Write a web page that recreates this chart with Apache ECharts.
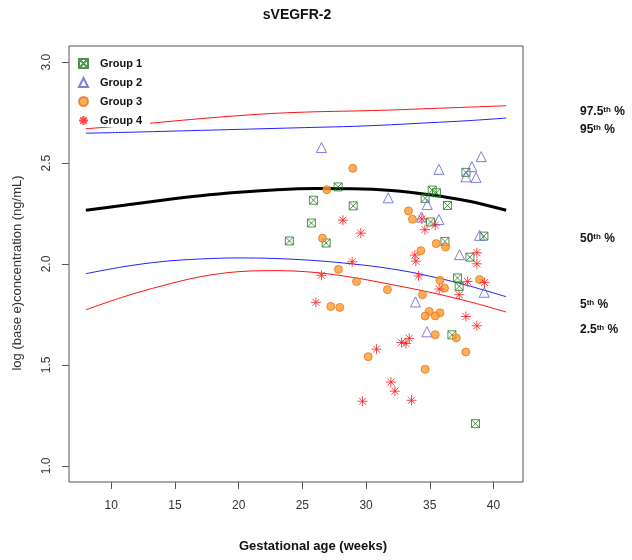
<!DOCTYPE html>
<html>
<head>
<meta charset="utf-8">
<script src="https://cdn.jsdelivr.net/npm/echarts@6/dist/echarts.min.js"></script>
<style>html,body{margin:0;padding:0;background:#fff;}#c{width:632px;height:560px;}</style>
</head>
<body>
<div id="c"></div>
<script>
// ---- data ----
var xTicks = [10, 15, 20, 25, 30, 35, 40];
var yTicks = [1.0, 1.5, 2.0, 2.5, 3.0];
var curveWeeks = [8, 11, 14, 17, 20, 23, 26, 29, 32, 35, 38, 41];
var p975 = [2.670, 2.685, 2.703, 2.720, 2.735, 2.747, 2.754, 2.758, 2.763, 2.770, 2.777, 2.784];
var p95  = [2.648, 2.652, 2.657, 2.662, 2.667, 2.672, 2.677, 2.682, 2.690, 2.700, 2.710, 2.723];
var p50  = [2.266, 2.291, 2.316, 2.338, 2.355, 2.368, 2.374, 2.373, 2.364, 2.343, 2.312, 2.266];
var p5   = [1.952, 1.987, 2.012, 2.025, 2.030, 2.027, 2.017, 2.000, 1.976, 1.940, 1.893, 1.838];
var p25  = [1.773, 1.838, 1.892, 1.937, 1.962, 1.967, 1.958, 1.933, 1.898, 1.860, 1.815, 1.762];
var group1 = [[27.81,2.382],[25.87,2.316],[28.99,2.288],[25.71,2.203],[23.98,2.114],[26.87,2.104],
  [37.84,2.454],[35.19,2.366],[35.53,2.353],[34.64,2.325],[36.39,2.290],[35.06,2.208],[36.19,2.112],
  [39.25,2.138],[38.15,2.034],[37.18,1.931],[37.31,1.889],[36.74,1.649],[38.59,1.209]];
var group2 = [[26.50,2.577],[31.74,2.328],[39.04,2.532],[38.31,2.482],[35.72,2.469],[37.84,2.432],
  [38.63,2.429],[34.80,2.295],[34.35,2.233],[35.72,2.220],[38.91,2.142],[37.34,2.046],[39.28,1.860],
  [33.88,1.812],[34.78,1.664]];
var group3 = [[28.96,2.474],[26.92,2.368],[33.33,2.263],[33.64,2.222],[26.58,2.128],[35.51,2.101],
  [36.24,2.084],[34.30,2.066],[27.83,1.973],[35.80,1.919],[36.16,1.881],[38.91,1.923],[29.25,1.913],
  [31.68,1.873],[34.43,1.848],[27.23,1.790],[27.94,1.785],[34.96,1.765],[35.80,1.758],[34.64,1.742],
  [35.43,1.743],[35.43,1.649],[37.08,1.634],[37.84,1.564],[30.17,1.541],[34.64,1.478]];
var group4 = [[28.18,2.217],[29.59,2.153],[28.91,2.011],[26.50,1.944],[26.06,1.810],[34.38,2.223],
  [35.43,2.193],[34.62,2.170],[33.83,2.044],[33.91,2.014],[38.70,2.056],[38.70,2.001],[34.12,1.941],
  [35.74,1.876],[37.31,1.848],[37.97,1.913],[39.30,1.908],[37.84,1.740],[38.70,1.694],[32.78,1.611],
  [33.13,1.606],[33.39,1.632],[30.82,1.578],[31.95,1.415],[32.26,1.370],[29.72,1.320],[33.57,1.325]];
var groupNames = ['Group 1', 'Group 2', 'Group 3', 'Group 4'];
var pctLabels = [['97.5', 112], ['95', 130], ['50', 239], ['5', 305], ['2.5', 330]];

function pairs(xs, ys) { return xs.map(function (x, i) { return [x, ys[i]]; }); }

var FONT = '"Liberation Sans", Arial, Helvetica, sans-serif';
var chart = echarts.init(document.getElementById('c'), null, { renderer: 'canvas' });

function lineSeries(data, color, width) {
  return { type: 'line', data: data, smooth: 0.35, showSymbol: false, silent: true,
    lineStyle: { color: color, width: width }, z: 2 };
}

var graphics = [
  { type: 'text', x: 297, y: 15, style: { text: 'sVEGFR-2', font: 'bold 14px ' + FONT, fill: '#111', align: 'center', verticalAlign: 'middle' } },
  { type: 'text', x: 313, y: 546, style: { text: 'Gestational age (weeks)', font: 'bold 13px ' + FONT, fill: '#111', align: 'center', verticalAlign: 'middle' } },
  { type: 'text', x: 17, y: 273, rotation: Math.PI / 2, style: { text: 'log (base e)concentration (ng/mL)', font: '13px ' + FONT, fill: '#333', align: 'center', verticalAlign: 'middle' } }
];
pctLabels.forEach(function (p) {
  graphics.push({ type: 'text', x: 580, y: p[1], style: {
    text: '{n|' + p[0] + '}{s|th}{n| %}', verticalAlign: 'middle', align: 'left',
    rich: {
      n: { font: 'bold 12px ' + FONT, fill: '#111', verticalAlign: 'bottom' },
      s: { font: 'bold 8px ' + FONT, fill: '#111', verticalAlign: 'top' }
    } } });
});

chart.setOption({
  animation: false,
  textStyle: { fontFamily: FONT },
  grid: { left: 69, right: 109, top: 46, bottom: 78, show: true, borderColor: '#555', borderWidth: 1, backgroundColor: 'transparent' },
  legend: {
    data: groupNames, orient: 'vertical', left: 74, top: 55, itemGap: 8, itemWidth: 9, itemHeight: 9,
    padding: [3, 8, 1, 4], backgroundColor: '#fff', z: 10,
    textStyle: { fontFamily: FONT, fontWeight: 'bold', fontSize: 11, color: '#111', padding: [0, 0, 0, 7] }
  },
  xAxis: {
    type: 'value', min: 6.68, max: 42.32,
    axisLine: { show: false }, splitLine: { show: false },
    axisTick: { show: true, customValues: xTicks, length: 7, lineStyle: { color: '#555' } },
    axisLabel: { customValues: xTicks, margin: 18, fontSize: 12, color: '#333' }
  },
  yAxis: {
    type: 'value', min: 0.92, max: 3.08,
    axisLine: { show: false }, splitLine: { show: false },
    axisTick: { show: true, customValues: yTicks, length: 7, lineStyle: { color: '#555' } },
    axisLabel: { customValues: yTicks, rotate: 90, margin: 16, fontSize: 12, color: '#333',
      formatter: function (v) { return v.toFixed(1); } }
  },
  graphic: graphics,
  series: [
    lineSeries(pairs(curveWeeks, p975), '#ff1010', 1),
    lineSeries(pairs(curveWeeks, p95), '#2020ff', 1),
    lineSeries(pairs(curveWeeks, p50), '#000000', 3),
    lineSeries(pairs(curveWeeks, p5), '#2020ff', 1),
    lineSeries(pairs(curveWeeks, p25), '#ff1010', 1),
    { name: groupNames[0], type: 'scatter', data: group1, z: 3,
      symbol: 'path://M0,0H10V10H0Z M0,0L10,10 M10,0L0,10', symbolSize: 8,
      itemStyle: { color: 'transparent', borderColor: '#217a21', borderWidth: 1 } },
    { name: groupNames[1], type: 'scatter', data: group2, z: 3,
      symbol: 'triangle', symbolSize: 10,
      itemStyle: { color: 'transparent', borderColor: '#5c5ce0', borderWidth: 1 } },
    { name: groupNames[2], type: 'scatter', data: group3, z: 3,
      symbol: 'circle', symbolSize: 8,
      itemStyle: { color: '#ff9a30', borderColor: '#e8741a', borderWidth: 1 } },
    { name: groupNames[3], type: 'scatter', data: group4, z: 3,
      symbol: 'path://M5,0V10M0,5H10M1.5,1.5L8.5,8.5M8.5,1.5L1.5,8.5', symbolSize: 10,
      itemStyle: { color: 'transparent', borderColor: '#ff1a1a', borderWidth: 1 } }
  ]
});
</script>
</body>
</html>
